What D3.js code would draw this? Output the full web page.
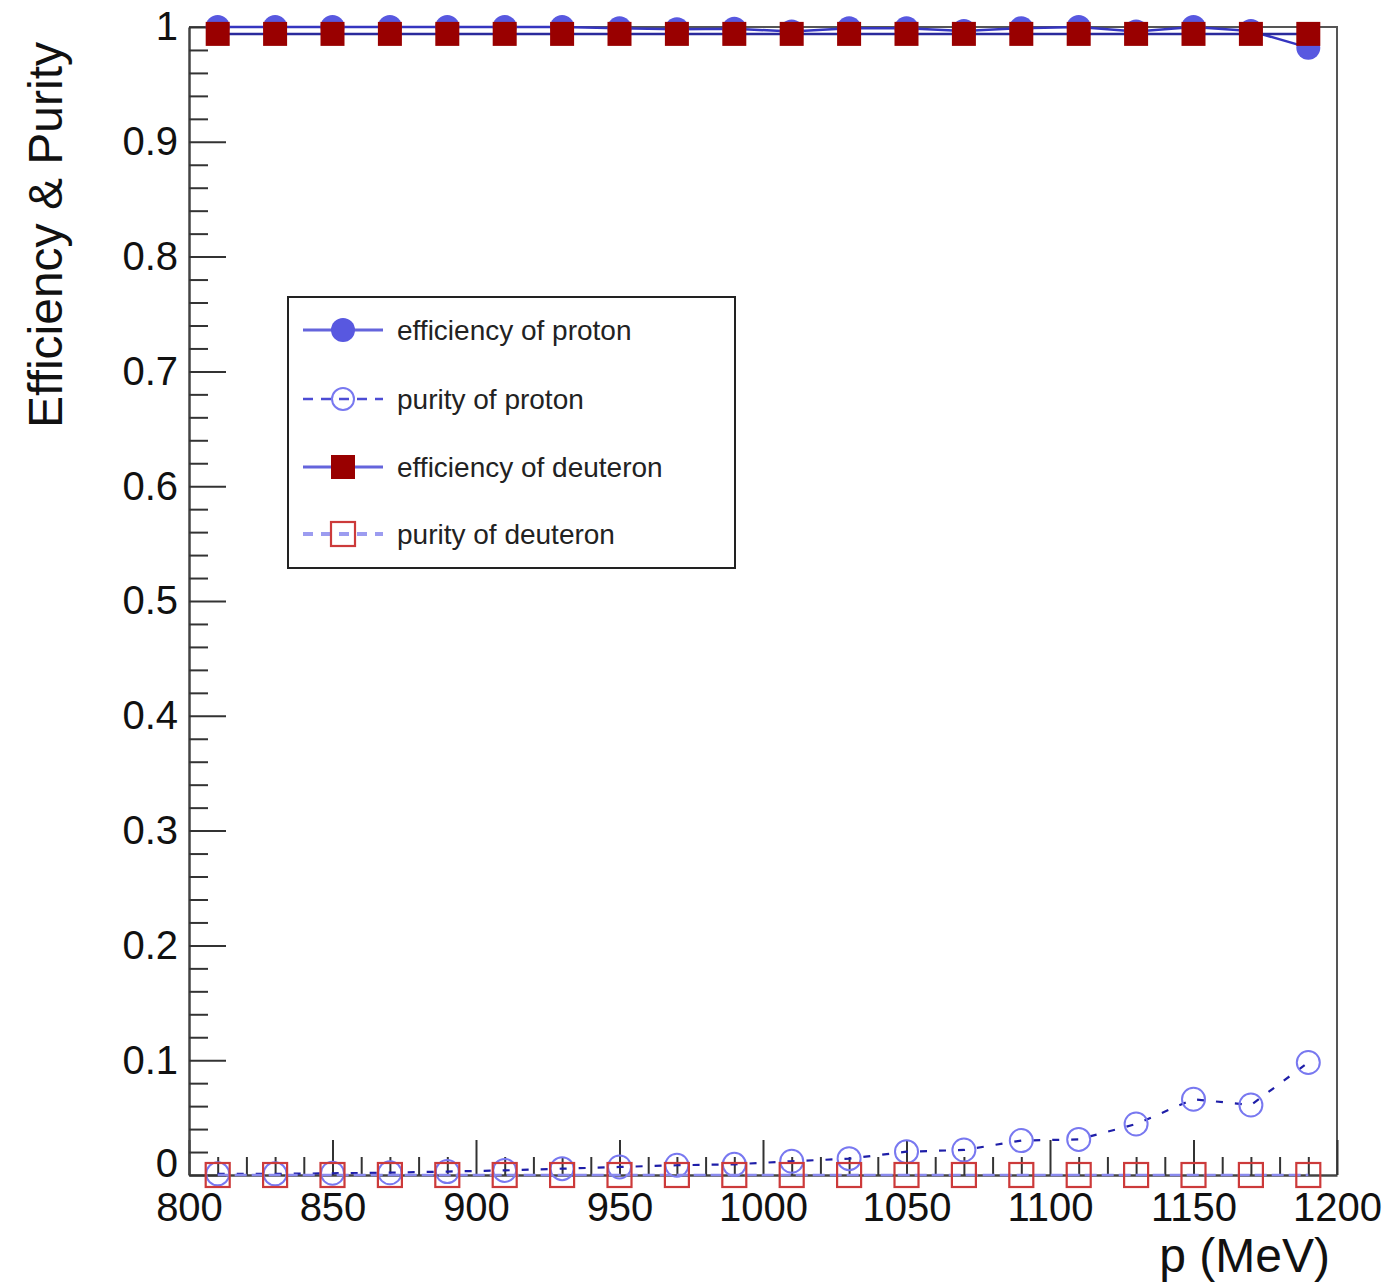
<!DOCTYPE html>
<html>
<head>
<meta charset="utf-8">
<script src="https://cdn.jsdelivr.net/npm/d3@7"></script>
<style>
	body { margin: 0; background: #fff; }
	text { font-family: "Liberation Sans", Arial, Helvetica, sans-serif; }
</style>
</head>
<body>
<script>
// momentum bins (MeV)
var pValues = [810, 830, 850, 870, 890, 910, 930, 950, 970, 990, 1010, 1030, 1050, 1070, 1090, 1110, 1130, 1150, 1170, 1190];
var effProton = [1.0, 1.0, 1.0, 1.0, 1.0, 1.0, 1.0, 0.999, 0.998, 0.9985, 0.996, 0.999, 0.999, 0.9965, 0.999, 1.0, 0.996, 1.0, 0.9965, 0.982];
var purProton = [0.001, 0.001, 0.0015, 0.002, 0.003, 0.004, 0.0055, 0.007, 0.0085, 0.0093, 0.012, 0.0142, 0.0203, 0.0218, 0.030, 0.031, 0.0444, 0.066, 0.061, 0.098];
var effDeuteron = [0.994, 0.994, 0.994, 0.994, 0.994, 0.994, 0.994, 0.994, 0.994, 0.994, 0.994, 0.994, 0.994, 0.994, 0.994, 0.994, 0.994, 0.994, 0.994, 0.994];
var purDeuteron = [0, 0, 0, 0, 0, 0, 0, 0, 0, 0, 0, 0, 0, 0, 0, 0, 0, 0, 0, 0];
var xMajorTicks = [800, 850, 900, 950, 1000, 1050, 1100, 1150, 1200];
var yMajorTicks = [0, 0.1, 0.2, 0.3, 0.4, 0.5, 0.6, 0.7, 0.8, 0.9, 1];
var legendLabels = ["efficiency of proton", "purity of proton", "efficiency of deuteron", "purity of deuteron"];

(function(){
	const Config = {
		svg: {Width: 1389, Height: 1287},
		frame: {left: 189, right: 1337, top: 27, bottom: 1175}
	};
	var svg = d3.select('body').append('svg')
		.attr('width', Config.svg.Width)
		.attr('height', Config.svg.Height);

	var scaleX = d3.scaleLinear().domain([800, 1200]).range([Config.frame.left, Config.frame.right]);
	var scaleY = d3.scaleLinear().domain([0, 1]).range([Config.frame.bottom, Config.frame.top]);

	// minor ticks every 10 MeV / 0.02
	var xMinor = d3.range(800, 1201, 10).filter(function(v){ return v % 50 !== 0; });
	var yMinor = d3.range(0, 51).map(function(i){ return i / 50; }).filter(function(v, i){ return i % 5 !== 0; });

	//frame top and right
	svg.append('path')
		.attr('d', 'M' + Config.frame.left + ',' + Config.frame.top + 'H' + Config.frame.right + 'V' + Config.frame.bottom)
		.attr('fill', 'none')
		.attr('stroke', '#555')
		.attr('stroke-width', 2);

	//axis x
	svg.append('g')
		.attr('class', 'axis axis--x')
		.attr('transform', 'translate(0,' + Config.frame.bottom + ')')
		.call(d3.axisBottom(scaleX).tickValues(xMajorTicks).tickSize(-35).tickPadding(18).tickSizeOuter(0).tickFormat(d3.format('d')));
	svg.append('g')
		.attr('transform', 'translate(0,' + Config.frame.bottom + ')')
		.call(d3.axisBottom(scaleX).tickValues(xMinor).tickSize(-18).tickSizeOuter(0).tickFormat(''))
		.select('.domain').remove();

	//axis y
	svg.append('g')
		.attr('class', 'axis axis--y')
		.attr('transform', 'translate(' + Config.frame.left + ',0)')
		.call(d3.axisLeft(scaleY).tickValues(yMajorTicks).tickSize(-37).tickPadding(11).tickSizeOuter(0).tickFormat(function(d){ return d === 0 || d === 1 ? String(d) : d3.format('.1f')(d); }));
	svg.append('g')
		.attr('transform', 'translate(' + Config.frame.left + ',0)')
		.call(d3.axisLeft(scaleY).tickValues(yMinor).tickSize(-19).tickSizeOuter(0).tickFormat(''))
		.select('.domain').remove();

	svg.selectAll('.tick line').attr('stroke', '#333').attr('stroke-width', 2);
	svg.selectAll('.domain').attr('stroke', '#444').attr('stroke-width', 2.5);
	svg.selectAll('.tick text').attr('font-size', 40).attr('fill', '#111')
		.style('font-family', '"Liberation Sans", Arial, sans-serif');
	// keep "0" clear of the "800" label below it
	svg.selectAll('.axis--y .tick text').filter(function(d){ return d === 0; }).attr('dy', '0.03em');

	// axis titles
	svg.append('text')
		.attr('x', 1330).attr('y', 1272)
		.attr('text-anchor', 'end')
		.attr('font-size', 48).attr('fill', '#111')
		.text('p (MeV)');
	svg.append('text')
		.attr('transform', 'translate(62,42) rotate(-90)')
		.attr('text-anchor', 'end')
		.attr('font-size', 48).attr('fill', '#111')
		.text('Efficiency & Purity');

	var line = function(vals){
		return d3.line()
			.x(function(d, i){ return scaleX(pValues[i]); })
			.y(function(d){ return scaleY(d); })(vals);
	};

	// efficiency of proton
	svg.append('path').attr('d', line(effProton))
		.attr('fill', 'none').attr('stroke', '#3535c0').attr('stroke-width', 2.5);
	svg.selectAll('.effP').data(effProton).enter().append('circle')
		.attr('class', 'effP')
		.attr('cx', function(d, i){ return scaleX(pValues[i]); })
		.attr('cy', function(d){ return scaleY(d); })
		.attr('r', 12)
		.attr('fill', '#5858e0');

	// purity of proton
	svg.append('path').attr('d', line(purProton))
		.attr('fill', 'none').attr('stroke', '#1e1ea8').attr('stroke-width', 2.2)
		.attr('stroke-dasharray', '7,12');
	svg.selectAll('.purP').data(purProton).enter().append('circle')
		.attr('class', 'purP')
		.attr('cx', function(d, i){ return scaleX(pValues[i]); })
		.attr('cy', function(d){ return scaleY(d); })
		.attr('r', 11.5)
		.attr('fill', 'none').attr('stroke', '#7878f0').attr('stroke-width', 2);

	// efficiency of deuteron
	svg.append('path').attr('d', line(effDeuteron))
		.attr('fill', 'none').attr('stroke', '#2a2a9c').attr('stroke-width', 2.5);
	svg.selectAll('.effD').data(effDeuteron).enter().append('rect')
		.attr('class', 'effD')
		.attr('x', function(d, i){ return scaleX(pValues[i]) - 12; })
		.attr('y', function(d){ return scaleY(d) - 12; })
		.attr('width', 24).attr('height', 24)
		.attr('fill', '#990000');

	// purity of deuteron
	svg.append('path').attr('d', line(purDeuteron))
		.attr('fill', 'none').attr('stroke', '#8a8aee').attr('stroke-width', 2.5)
		.attr('stroke-dasharray', '12,5');
	svg.selectAll('.purD').data(purDeuteron).enter().append('rect')
		.attr('class', 'purD')
		.attr('x', function(d, i){ return scaleX(pValues[i]) - 12; })
		.attr('y', function(d){ return scaleY(d) - 12; })
		.attr('width', 24).attr('height', 24)
		.attr('fill', 'none').attr('stroke', '#cc3a3a').attr('stroke-width', 2.2);

	// legend
	var legend = svg.append('g').attr('class', 'legend');
	legend.append('rect')
		.attr('x', 288).attr('y', 297).attr('width', 447).attr('height', 271)
		.attr('fill', '#fff').attr('stroke', '#222').attr('stroke-width', 2);
	var rowY = [330, 399, 467, 534];
	var entry = legend.selectAll('.entry').data(legendLabels).enter().append('g')
		.attr('class', 'entry')
		.attr('transform', function(d, i){ return 'translate(0,' + rowY[i] + ')'; });
	entry.append('line')
		.attr('x1', 303).attr('x2', 383).attr('y1', 0).attr('y2', 0)
		.attr('stroke', function(d, i){ return i === 3 ? '#9c9cf0' : (i === 1 ? '#4c4cd4' : '#6464dc'); })
		.attr('stroke-width', function(d, i){ return i === 3 ? 4 : (i === 1 ? 2.5 : 3); })
		.attr('stroke-dasharray', function(d, i){ return i % 2 === 1 ? '10,8' : null; });
	entry.append('text')
		.attr('x', 397).attr('y', 0).attr('dy', '0.35em')
		.attr('font-size', 28).attr('fill', '#222')
		.text(function(d){ return d; });
	entry.each(function(d, i){
		var g = d3.select(this);
		if(i === 0) g.append('circle').attr('cx', 343).attr('r', 12).attr('fill', '#5858e0');
		if(i === 1) g.append('circle').attr('cx', 343).attr('r', 11).attr('fill', 'none').attr('stroke', '#7878f0').attr('stroke-width', 2);
		if(i === 2) g.append('rect').attr('x', 331).attr('y', -12).attr('width', 24).attr('height', 24).attr('fill', '#990000');
		if(i === 3) g.append('rect').attr('x', 331).attr('y', -12).attr('width', 24).attr('height', 24).attr('fill', 'none').attr('stroke', '#cc3a3a').attr('stroke-width', 2.2);
	});
})();
</script>
</body>
</html>
